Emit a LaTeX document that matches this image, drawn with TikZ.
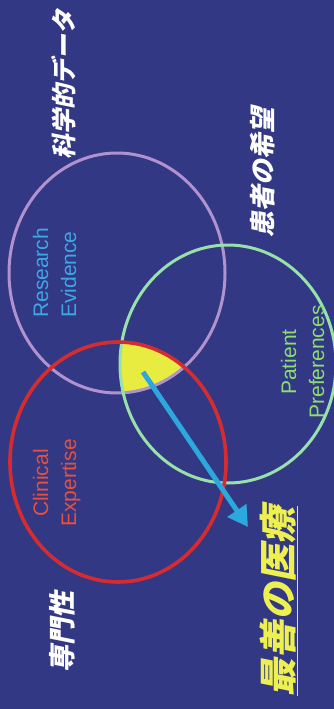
\documentclass[tikz,border=0pt]{standalone}
\usepackage{fontspec}
\setmainfont{Liberation Sans}
\newfontfamily\jp[FakeSlant=0.2]{Noto Sans CJK JP}
\usetikzlibrary{arrows.meta}
\definecolor{bg}{RGB}{50,56,132}
\definecolor{lav}{RGB}{176,146,206}
\definecolor{mint}{RGB}{150,226,170}
\definecolor{redc}{RGB}{214,44,48}
\definecolor{yel}{RGB}{232,236,64}
\definecolor{arr}{RGB}{44,168,220}
\definecolor{txtblue}{RGB}{60,168,230}
\definecolor{txtgreen}{RGB}{140,222,110}
\definecolor{txtred}{RGB}{232,80,60}
\definecolor{txtyel}{RGB}{238,240,80}
\tikzset{
  circ/.style={line width=3pt},
  entxt/.style={rotate=90,inner sep=0pt,font=\fontsize{21}{28}\selectfont},
  jptxt/.style={rotate=90,inner sep=0pt,text=white},
}
\begin{document}
\begin{tikzpicture}[x=1pt,y=-1pt]
\fill[bg] (0,0) rectangle (334,709);
\useasboundingbox (0,0) rectangle (334,709);
% yellow intersection
\begin{scope}
\clip (117,273) ellipse [x radius=108,y radius=120];
\clip (228,364) ellipse [x radius=108,y radius=119];
\fill[yel] (118,462) ellipse [x radius=108,y radius=120];
\end{scope}
\draw[circ,lav] (117,273) ellipse [x radius=108,y radius=120];
\draw[circ,mint] (228,364) ellipse [x radius=108,y radius=119];
\draw[circ,redc,line width=3.6pt] (118,462) ellipse [x radius=108,y radius=120];
% arrow
\coordinate (as) at (143,372);
\coordinate (ae) at (248,527);
\draw[arr,line width=5pt,-{Triangle[length=20pt,width=22pt]}] (as) -- (ae);
% english labels
\node[entxt,text=txtblue,anchor=base west,align=left] (re) at (76,318) {Research\\Evidence};
\node[entxt,text=txtgreen,anchor=base,align=center] (pp) at (324,362) {Patient\\Preferences};
\node[entxt,text=txtred,anchor=base,align=center] (ce) at (76,483) {Clinical\\Expertise};
% japanese labels
\node[jptxt,font=\jp\bfseries\fontsize{25}{25}\selectfont] (kagaku) at (64,84) {科学的データ};
\node[jptxt,font=\jp\bfseries\fontsize{26}{26}\selectfont] (kanja) at (263,172) {患者の希望};
\node[jptxt,font=\jp\bfseries\fontsize{27}{27}\selectfont] (senmon) at (62,632) {専門性};
\node[jptxt,text=txtyel,font=\jp\bfseries\fontsize{38}{38}\selectfont] (saizen) at (279,601) {\underline{最善の医療}};
\end{tikzpicture}
\end{document}
